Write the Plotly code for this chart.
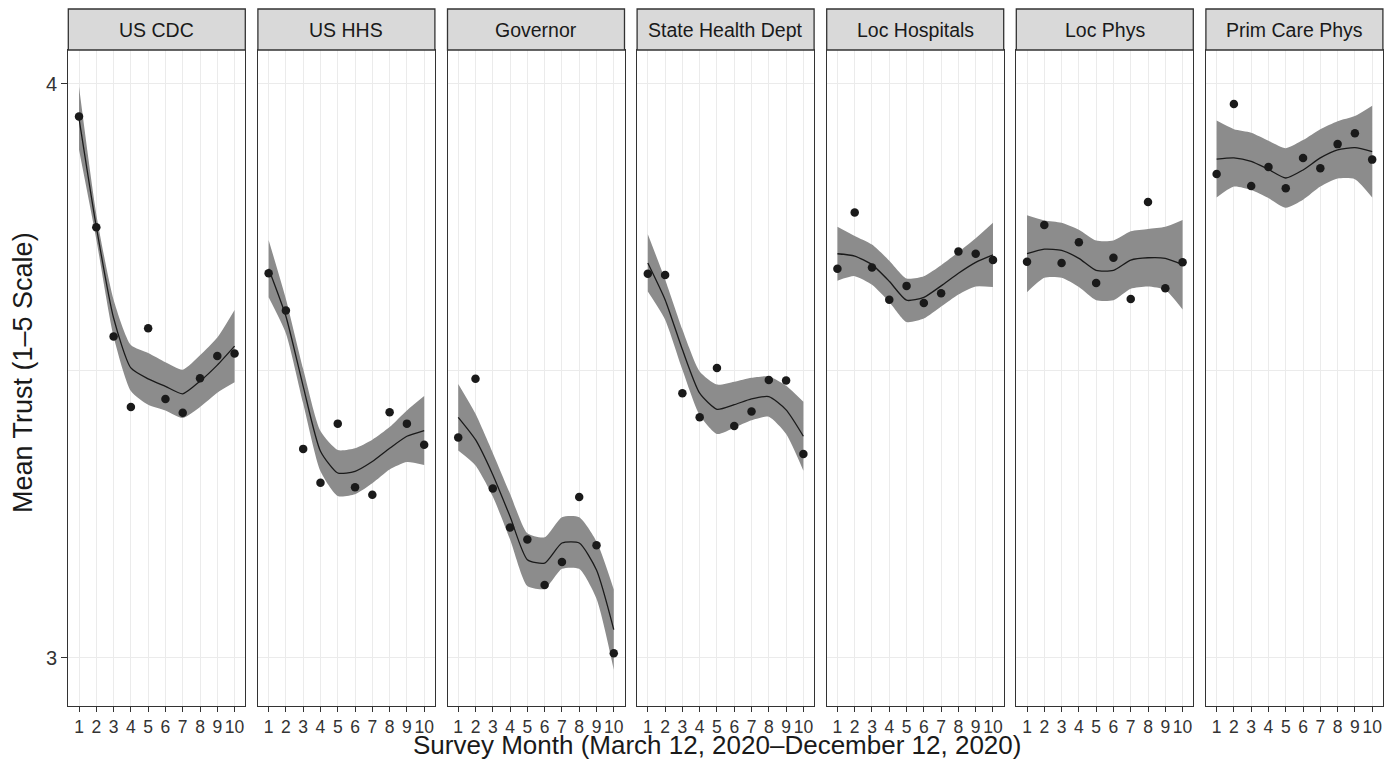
import plotly.graph_objects as go

months = [1, 2, 3, 4, 5, 6, 7, 8, 9, 10]
tick_labels = ["1", "2", "3", "4", "5", "6", "7", "8", "9", "10"]
panels = ["US CDC", "US HHS", "Governor", "State Health Dept", "Loc Hospitals", "Loc Phys", "Prim Care Phys"]

cdc_pts = [3.943, 3.750, 3.560, 3.437, 3.574, 3.451, 3.427, 3.487, 3.526, 3.530]
cdc_fit = [3.940, 3.751, 3.592, 3.505, 3.486, 3.473, 3.460, 3.482, 3.510, 3.543]
cdc_se = [0.055, 0.022, 0.032, 0.040, 0.045, 0.042, 0.042, 0.045, 0.048, 0.063]

hhs_pts = [3.670, 3.605, 3.364, 3.305, 3.408, 3.297, 3.284, 3.428, 3.408, 3.371]
hhs_fit = [3.678, 3.595, 3.473, 3.360, 3.322, 3.325, 3.342, 3.365, 3.386, 3.396]
hhs_se = [0.050, 0.030, 0.030, 0.035, 0.040, 0.040, 0.038, 0.037, 0.045, 0.060]

gov_pts = [3.384, 3.486, 3.295, 3.227, 3.206, 3.127, 3.167, 3.280, 3.196, 3.008]
gov_fit = [3.419, 3.380, 3.319, 3.246, 3.171, 3.165, 3.200, 3.200, 3.153, 3.049]
gov_se = [0.058, 0.045, 0.038, 0.040, 0.046, 0.045, 0.045, 0.045, 0.050, 0.070]

shd_pts = [3.669, 3.667, 3.461, 3.419, 3.505, 3.404, 3.429, 3.484, 3.483, 3.355]
shd_fit = [3.688, 3.624, 3.537, 3.461, 3.433, 3.441, 3.451, 3.455, 3.432, 3.386]
shd_se = [0.050, 0.035, 0.035, 0.038, 0.043, 0.040, 0.037, 0.035, 0.042, 0.060]

hosp_pts = [3.678, 3.776, 3.680, 3.624, 3.648, 3.618, 3.635, 3.708, 3.704, 3.693]
hosp_fit = [3.704, 3.700, 3.685, 3.656, 3.623, 3.628, 3.648, 3.670, 3.689, 3.702]
hosp_se = [0.047, 0.035, 0.035, 0.036, 0.038, 0.037, 0.036, 0.037, 0.042, 0.056]

phys_pts = [3.690, 3.754, 3.688, 3.724, 3.653, 3.697, 3.625, 3.794, 3.644, 3.689]
phys_fit = [3.704, 3.712, 3.710, 3.696, 3.675, 3.675, 3.693, 3.697, 3.696, 3.685]
phys_se = [0.067, 0.050, 0.048, 0.050, 0.052, 0.052, 0.050, 0.050, 0.055, 0.078]

pcp_pts = [3.843, 3.965, 3.822, 3.855, 3.818, 3.871, 3.853, 3.895, 3.914, 3.868]
pcp_fit = [3.869, 3.871, 3.865, 3.851, 3.836, 3.850, 3.871, 3.885, 3.889, 3.882]
pcp_se = [0.067, 0.050, 0.050, 0.050, 0.052, 0.052, 0.050, 0.050, 0.055, 0.080]

series = [
    (cdc_pts, cdc_fit, cdc_se),
    (hhs_pts, hhs_fit, hhs_se),
    (gov_pts, gov_fit, gov_se),
    (shd_pts, shd_fit, shd_se),
    (hosp_pts, hosp_fit, hosp_se),
    (phys_pts, phys_fit, phys_se),
    (pcp_pts, pcp_fit, pcp_se),
]

# page has an 8px body margin; work in page pixels and convert
OFF = 8.0
W, H = 1376, 754
panel_w = 177.0
panel_step = 189.6
panel_left0 = 68.3
plot_top_page, plot_bot_page = 50.0, 706.0
strip_top_page = 9.0


def px(xp):
    return min(1.0, max(0.0, (xp - OFF) / W))


def py(yp):
    return min(1.0, max(0.0, 1 - (yp - OFF) / H))


FONT = "Liberation Sans, Arial, sans-serif"
BAND = "rgb(140,140,140)"
DARK = "#1a1a1a"
BORDER = "#333333"
GRID = "#ebebeb"

fig = go.Figure()
layout = dict(
    width=W, height=H,
    margin=dict(l=0, r=0, t=0, b=0),
    paper_bgcolor="white", plot_bgcolor="white",
    showlegend=False,
    font=dict(family=FONT, color="#333333"),
)
shapes = []
annotations = []

ydom = [py(plot_bot_page), py(plot_top_page)]

for i, (name, (pts, fit, se)) in enumerate(zip(panels, series)):
    n = i + 1
    xa = "x" if n == 1 else f"x{n}"
    ya = "y" if n == 1 else f"y{n}"
    upper = [f + s for f, s in zip(fit, se)]
    lower = [f - s for f, s in zip(fit, se)]
    fig.add_trace(go.Scatter(x=months, y=upper, mode="lines", line=dict(width=0, shape="spline", smoothing=0.6),
                             hoverinfo="skip", xaxis=xa, yaxis=ya))
    fig.add_trace(go.Scatter(x=months, y=lower, mode="lines", line=dict(width=0, shape="spline", smoothing=0.6),
                             fill="tonexty", fillcolor=BAND, hoverinfo="skip", xaxis=xa, yaxis=ya))
    fig.add_trace(go.Scatter(x=months, y=fit, mode="lines", line=dict(color=DARK, width=1.3, shape="spline", smoothing=0.6),
                             xaxis=xa, yaxis=ya))
    fig.add_trace(go.Scatter(x=months, y=pts, mode="markers", marker=dict(color=DARK, size=8.5),
                             xaxis=xa, yaxis=ya))

    L = panel_left0 + i * panel_step
    xdom = [px(L), px(L + panel_w)]
    layout["xaxis" if n == 1 else f"xaxis{n}"] = dict(
        domain=xdom, anchor=ya, range=[0.38, 10.62],
        tickvals=months, ticktext=tick_labels, tickangle=0,
        ticks="outside", ticklen=5, tickcolor=BORDER, tickwidth=1,
        tickfont=dict(size=17.5, color="#333333", family=FONT),
        showgrid=True, gridcolor=GRID, gridwidth=1,
        showline=True, mirror=True, linecolor=BORDER, linewidth=1.3,
        zeroline=False, fixedrange=True,
    )
    yax = dict(
        domain=ydom, anchor=xa, range=[2.916, 4.059],
        tickvals=[3, 4], ticktext=["3", "4"],
        showgrid=True, gridcolor=GRID, gridwidth=1,
        minor=dict(tickvals=[3.5], showgrid=True, gridcolor=GRID, gridwidth=1, ticks=""),
        showline=True, mirror=True, linecolor=BORDER, linewidth=1.3,
        zeroline=False, fixedrange=True,
    )
    if n == 1:
        yax.update(ticks="outside", ticklen=6, tickcolor=BORDER, tickwidth=1,
                   showticklabels=True, tickfont=dict(size=20, color="#333333", family=FONT))
    else:
        yax.update(ticks="", showticklabels=False, matches="y")
    layout["yaxis" if n == 1 else f"yaxis{n}"] = yax

    shapes.append(dict(type="rect", xref="paper", yref="paper",
                       x0=xdom[0], x1=xdom[1], y0=py(plot_top_page), y1=py(strip_top_page),
                       fillcolor="#d9d9d9", line=dict(color=BORDER, width=1.3), layer="above"))
    annotations.append(dict(text=name, xref="paper", yref="paper",
                            x=(xdom[0] + xdom[1]) / 2, y=py((strip_top_page + plot_top_page) / 2),
                            xanchor="center", yanchor="middle", showarrow=False,
                            font=dict(size=19.5, color="#1a1a1a", family=FONT)))

annotations.append(dict(text="Survey Month (March 12, 2020\u2013December 12, 2020)",
                        xref="paper", yref="paper", x=px(717),
                        y=0, xanchor="center", yanchor="bottom", showarrow=False,
                        font=dict(size=26, color="#1a1a1a", family=FONT)))
annotations.append(dict(text="Mean Trust (1\u20135 Scale)", xref="paper", yref="paper",
                        x=px(23), y=py(373), xanchor="center", yanchor="middle", showarrow=False,
                        textangle=-90, font=dict(size=27, color="#1a1a1a", family=FONT)))

layout["shapes"] = shapes
layout["annotations"] = annotations
fig.update_layout(**layout)
fig.write_html("out.html")
